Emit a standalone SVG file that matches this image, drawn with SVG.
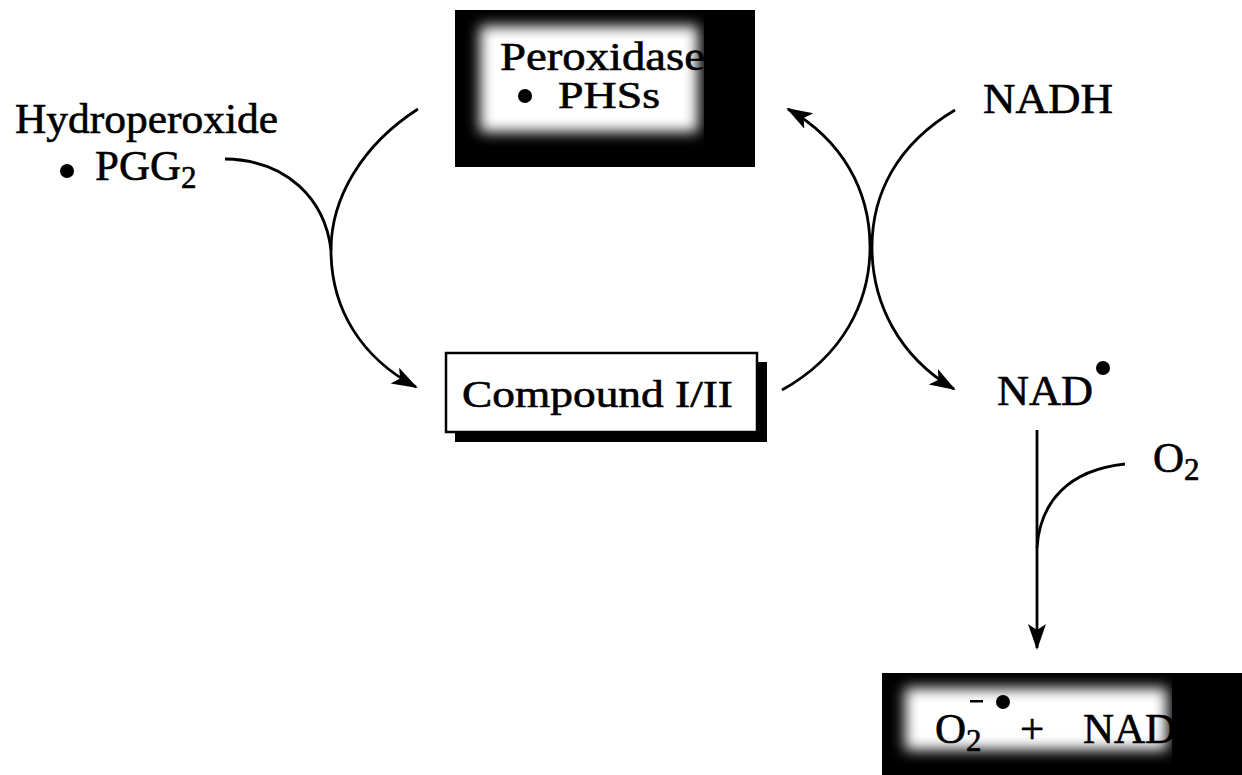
<svg xmlns="http://www.w3.org/2000/svg" width="1242" height="775" viewBox="0 0 1242 775">
<style>
.t{font-family:"Liberation Serif","Times New Roman",serif;fill:#000;stroke:#000;stroke-width:0.6;}
.c{fill:none;stroke:#000;stroke-width:2.8;}
</style>
<defs>
<filter id="blur" x="-30%" y="-30%" width="160%" height="160%"><feGaussianBlur stdDeviation="7"/></filter>
<marker id="ah" markerUnits="userSpaceOnUse" markerWidth="28" markerHeight="20" refX="24" refY="9" orient="auto"><path d="M0,0 L26,9 L0,18 L6,9 Z" fill="#000"/></marker>
</defs>
<rect width="1242" height="775" fill="#fff"/>
<g id="peroxidase">
<rect x="455" y="10" width="300" height="157" fill="#000"/>
<rect x="480" y="26" width="218" height="106" fill="#fff" filter="url(#blur)"/>
<text class="t" x="500" y="70" font-size="40" textLength="205" lengthAdjust="spacingAndGlyphs">Peroxidase</text>
<circle cx="525" cy="96" r="7" fill="#000"/>
<text class="t" x="558" y="108" font-size="37" textLength="102" lengthAdjust="spacingAndGlyphs">PHSs</text>
<rect x="704" y="10" width="51" height="157" fill="#000"/>
</g>
<g id="hydroperoxide">
<text class="t" x="15" y="133" font-size="42" textLength="263" lengthAdjust="spacingAndGlyphs">Hydroperoxide</text>
<circle cx="67" cy="171" r="7" fill="#000"/>
<text class="t" x="95" y="180" font-size="43">PGG<tspan font-size="31" dy="8">2</tspan></text>
</g>
<g id="nadh">
<text class="t" x="983" y="113" font-size="42" textLength="130" lengthAdjust="spacingAndGlyphs">NADH</text>
</g>
<g id="compound">
<rect x="455" y="362" width="312" height="80" fill="#000"/>
<rect x="446" y="353" width="311" height="79" fill="#fff" stroke="#000" stroke-width="2.5"/>
<text class="t" x="462" y="407" font-size="38" textLength="271" lengthAdjust="spacingAndGlyphs">Compound I/II</text>
</g>
<g id="nad-radical">
<text class="t" x="997" y="405" font-size="42" textLength="96" lengthAdjust="spacingAndGlyphs">NAD</text>
<circle cx="1103" cy="368" r="7" fill="#000"/>
</g>
<g id="o2">
<text class="t" x="1153" y="472" font-size="43">O<tspan font-size="31" dy="8">2</tspan></text>
</g>
<g id="products">
<rect x="882" y="673" width="360" height="102" fill="#000"/>
<rect x="905" y="688" width="262" height="62" fill="#fff" filter="url(#blur)"/>
<text class="t" x="935" y="743" font-size="43">O<tspan font-size="31" dy="8">2</tspan></text>
<rect x="970" y="700" width="13" height="2.5" fill="#000"/>
<circle cx="1003" cy="702" r="7" fill="#000"/>
<text class="t" x="1020" y="743" font-size="43">+</text>
<text class="t" x="1083" y="743" font-size="43">NAD</text>
<rect x="1172" y="673" width="70" height="102" fill="#000"/>
</g>
<g id="connectors">
<path class="c" d="M418,109 C362,145 331,198 331,250 C331,310 362,358 416,387" marker-end="url(#ah)"/>
<path class="c" d="M225,159 C288,160 325,200 331,250"/>
<path class="c" d="M782,390 C843,356 870,302 870,247 C870,190 842,140 788,109" marker-end="url(#ah)"/>
<path class="c" d="M955,110 C896,145 872,195 872,247 C872,302 898,356 954,389" marker-end="url(#ah)"/>
<path class="c" d="M1037,430 L1037,648" marker-end="url(#ah)"/>
<path class="c" d="M1125,464 C1068,470 1040,502 1037,548"/>
</g>
</svg>
